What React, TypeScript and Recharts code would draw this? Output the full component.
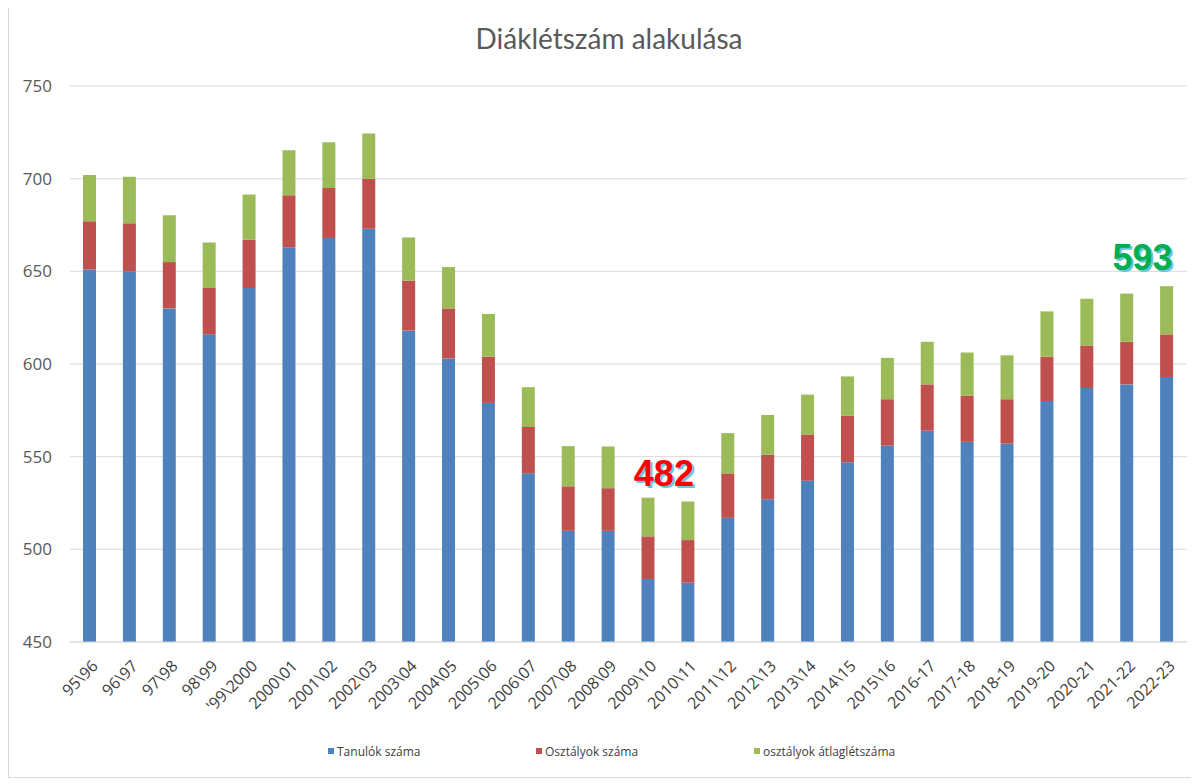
import React from "react";
import {
  BarChart,
  Bar,
  XAxis,
  YAxis,
  CartesianGrid,
  Legend,
  LabelList,
} from "recharts";

// tanévek
const years = [
  "95\\96", "96\\97", "97\\98", "98\\99", "'99\\2000", "2000\\01", "2001\\02",
  "2002\\03", "2003\\04", "2004\\05", "2005\\06", "2006\\07", "2007\\08",
  "2008\\09", "2009\\10", "2010\\11", "2011\\12", "2012\\13", "2013\\14",
  "2014\\15", "2015\\16", "2016-17", "2017-18", "2018-19", "2019-20",
  "2020-21", "2021-22", "2022-23",
];

const students = [
  651, 650, 630, 616, 641, 663, 668, 673, 618, 603, 579, 541, 510, 510, 484,
  482, 517, 527, 537, 547, 556, 564, 558, 557, 580, 587, 589, 593,
];

const classes = [
  26, 26, 25, 25, 26, 28, 27, 27, 27, 27, 25, 25, 24, 23, 23, 23, 24, 24, 25,
  25, 25, 25, 25, 24, 24, 23, 23, 23,
];

const avgSize = [
  25.0, 25.0, 25.2, 24.6, 24.4, 24.4, 24.7, 24.4, 23.2, 22.3, 23.0, 21.5, 21.7,
  22.5, 20.9, 20.8, 21.7, 21.5, 21.5, 21.3, 22.3, 23.0, 23.2, 23.7, 24.4, 25.2,
  26.0, 26.0,
];

const yTicks = [450, 500, 550, 600, 650, 700, 750];

// kiemelt értékek (index -> szín)
const highlights: Record<number, string> = { 15: "#ff0000", 27: "#00b050" };

const chartData = years.map((name, i) => ({
  name,
  tanulok: students[i],
  osztalyok: classes[i],
  atlag: avgSize[i],
}));

const series = [
  { key: "tanulok", label: "Tanulók száma", color: "#4f81bd", w: 208 },
  { key: "osztalyok", label: "Osztályok száma", color: "#c0504d", w: 218 },
  { key: "atlag", label: "osztályok átlaglétszáma", color: "#9bbb59", w: 200 },
];

const renderTick = (props: any) => {
  const { x, y, payload } = props;
  return (
    <g transform={`translate(${x + 9},${y + 25})`}>
      <text
        textAnchor="end"
        transform="rotate(-45)"
        fontSize={16}
        fontFamily="Open Sans"
        fill="#404040"
      >
        {payload.value}
      </text>
    </g>
  );
};

const renderHighlight = (props: any) => {
  const { x, y, width, index } = props;
  const color = highlights[index];
  if (!color) return null;
  const cx = x + width / 2 - 24;
  const by = y - 16;
  const txt = String(students[index]);
  const style = {
    fontSize: 36,
    fontWeight: 700,
    fontFamily: "Liberation Sans, Arial",
  };
  return (
    <g>
      <text x={cx + 2} y={by + 2} textAnchor="middle" fill="#6cc4e0" style={style}>
        {txt}
      </text>
      <text x={cx} y={by} textAnchor="middle" fill={color} style={style}>
        {txt}
      </text>
    </g>
  );
};

const renderLegend = () => (
  <div
    style={{
      height: 20,
      display: "flex",
      alignItems: "center",
      paddingLeft: 319,
      fontFamily: "Open Sans",
      fontSize: 12,
      color: "#404040",
    }}
  >
    {series.map((s) => (
      <div
        key={s.key}
        style={{ width: s.w, display: "flex", alignItems: "center", flex: "none" }}
      >
        <span
          style={{
            display: "inline-block",
            width: 6,
            height: 6,
            background: s.color,
            marginRight: 3,
          }}
        />
        <span>{s.label}</span>
      </div>
    ))}
  </div>
);

export default function App() {
  return (
    <div
      style={{
        position: "relative",
        width: 1182,
        height: 769,
        borderLeft: "1px solid #d9d9d9",
        borderBottom: "1px solid #d9d9d9",
        background: "#fff",
      }}
    >
      <div
        style={{
          position: "absolute",
          left: 300,
          top: 16,
          width: 600,
          textAlign: "center",
          fontFamily: "Lato",
          fontSize: 28,
          lineHeight: "28px",
          color: "#595959",
        }}
      >
        Diáklétszám alakulása
      </div>
      <BarChart
        width={1182}
        height={769}
        data={chartData}
        margin={{ top: 78, right: 4, left: 0, bottom: 16 }}
      >
        <CartesianGrid vertical={false} stroke="#d9d9d9" />
        <XAxis
          dataKey="name"
          interval={0}
          height={99}
          tick={renderTick}
          tickLine={false}
          tickSize={0}
          tickMargin={0}
          axisLine={{ stroke: "#d9d9d9" }}
        />
        <YAxis
          domain={[450, 750]}
          ticks={yTicks}
          allowDataOverflow
          width={61}
          axisLine={false}
          tickLine={false}
          tickSize={0}
          tickMargin={18}
          tick={{ fontSize: 17, fontFamily: "Open Sans", fill: "#595959" }}
        />
        <Legend verticalAlign="bottom" content={renderLegend} />
        {series.map((s, i) => (
          <Bar
            key={s.key}
            dataKey={s.key}
            name={s.label}
            stackId="a"
            fill={s.color}
            barSize={13}
            isAnimationActive={false}
          >
            {i === 2 && <LabelList dataKey="atlag" content={renderHighlight} />}
          </Bar>
        ))}
      </BarChart>
    </div>
  );
}
